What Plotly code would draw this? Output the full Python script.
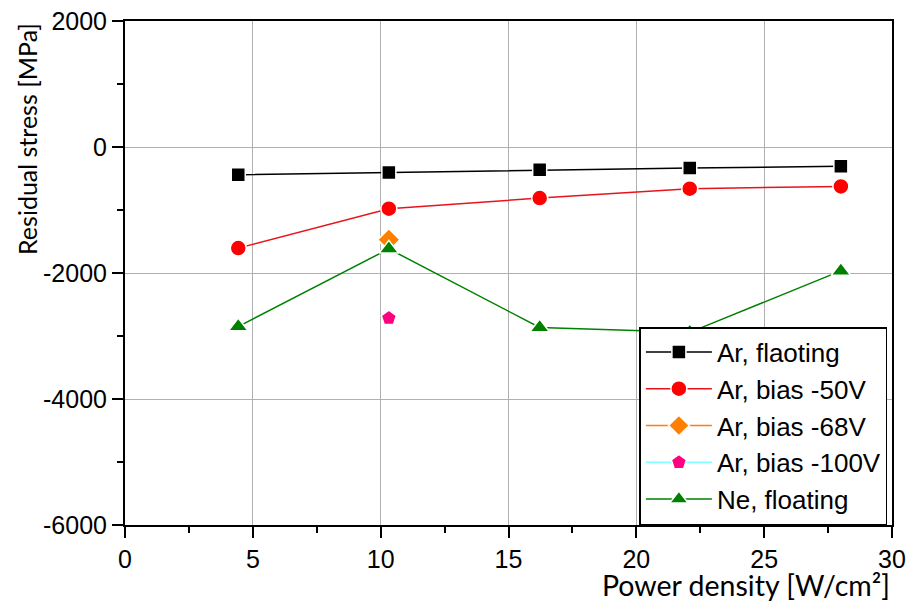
import plotly.graph_objects as go

# Data
x_main = [4.43, 10.32, 16.22, 22.09, 28.0]
ar_floating = [-440, -403, -360, -333, -307]
ar_bias50 = [-1605, -980, -810, -662, -625]
x_single = [10.32]
ar_bias68 = [-1473]
ar_bias100 = [-2715]
ne_floating = [-2850, -1617, -2865, -2942, -1967]

x_ticks = [0, 5, 10, 15, 20, 25, 30]
y_ticks = [2000, 0, -2000, -4000, -6000]

fig = go.Figure()

def add(name, xs, ys, color, line_color, symbol, size):
    fig.add_trace(go.Scatter(
        x=xs, y=ys, name=name, mode="lines+markers",
        line=dict(color=line_color, width=1.5),
        marker=dict(symbol=symbol, size=size, color=color,
                    line=dict(color="white", width=1.5)),
    ))

add("Ar, flaoting", x_main, ar_floating, "black", "black", "square", 14)
add("Ar, bias -50V", x_main, ar_bias50, "#FF0000", "#E8141B", "circle", 16)
add("Ar, bias -68V", x_single, ar_bias68, "#FF8000", "#FF8000", "diamond", 17)
add("Ar, bias -100V", x_single, ar_bias100, "#FF0080", "#80FFFF", "pentagon", 16)
add("Ne, floating", x_main, ne_floating, "#008000", "#008000", "triangle-up", 17)

tick_font = dict(family="Liberation Sans, Arial", size=25, color="black")

fig.update_layout(
    width=909, height=601,
    margin=dict(l=125, r=17, t=21, b=76),
    paper_bgcolor="white", plot_bgcolor="white",
    showlegend=True,
    legend=dict(
        x=0.994, y=0, xanchor="right", yanchor="bottom",
        bgcolor="white", bordercolor="black", borderwidth=1.5,
        font=dict(family="Liberation Sans, Arial", size=26, color="black"),
        itemwidth=66, tracegroupgap=0,
    ),
    xaxis=dict(
        range=[0, 30], tickvals=x_ticks, ticktext=[str(v) for v in x_ticks],
        showgrid=True, gridcolor="#B0B0B0", gridwidth=1,
        showline=True, linecolor="black", linewidth=2, mirror=True,
        ticks="outside", ticklen=11, tickwidth=2, tickcolor="black",
        minor=dict(dtick=2.5, ticks="outside", ticklen=6, tickwidth=2,
                   tickcolor="black", showgrid=False),
        tickfont=tick_font, zeroline=False, ticklabeloverflow="allow",
        automargin=False,
    ),
    yaxis=dict(
        range=[-6000, 2000], tickvals=y_ticks, ticktext=[str(v) for v in y_ticks],
        showgrid=True, gridcolor="#B0B0B0", gridwidth=1,
        showline=True, linecolor="black", linewidth=2, mirror=True,
        ticks="outside", ticklen=11, tickwidth=2, tickcolor="black",
        minor=dict(dtick=1000, ticks="outside", ticklen=6, tickwidth=2,
                   tickcolor="black", showgrid=False),
        tickfont=tick_font, zeroline=False, ticklabeloverflow="allow",
        automargin=False,
    ),
    annotations=[
        dict(text="Power density [W/cm²]", xref="paper", yref="paper",
             x=1.0, y=0, xanchor="right", yanchor="top", yshift=-41,
             showarrow=False,
             font=dict(family="Lato", size=28.5, color="black")),
        dict(text="Residual stress [MPa]", xref="paper", yref="paper",
             x=0, y=1, xanchor="center", yanchor="top", xshift=-98,
             textangle=-90, showarrow=False,
             font=dict(family="Lato", size=25, color="black")),
    ],
)

fig.write_html(
    "out.html",
    config={"displayModeBar": False, "responsive": False},
    post_script=(
        "document.documentElement.style.overflow='hidden';"
        "document.body.style.margin='0';"
        "document.body.style.overflow='hidden';"
        "var gd=document.getElementById('{plot_id}');"
        "gd.style.width='909px';gd.style.height='601px';"
        "Plotly.relayout(gd,{width:909,height:601});"
    ),
)
